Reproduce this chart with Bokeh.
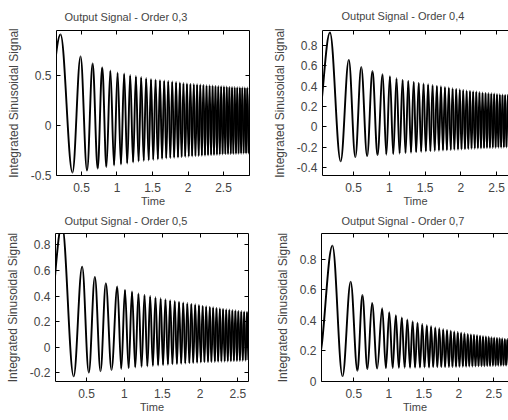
from bokeh.plotting import figure
from bokeh.models import ColumnDataSource, LinearAxis, FixedTicker, Range1d
from bokeh.layouts import column, row
from bokeh.embed import file_html
from bokeh.resources import INLINE

# ---------------- texts ----------------
titles = ["Output Signal - Order 0,3", "Output Signal - Order 0,4",
          "Output Signal - Order 0,5", "Output Signal - Order 0,7"]
x_label = "Time"
y_label = "Integrated Sinusoidal Signal"

x_ticks = [0.5, 1, 1.5, 2, 2.5]
x_tick_labels = ["0.5", "1", "1.5", "2", "2.5"]

y_ticks_03 = [-0.5, 0, 0.5]
y_tick_labels_03 = ["-0.5", "0", "0.5"]
y_ticks_04 = [-0.4, -0.2, 0, 0.2, 0.4, 0.6, 0.8]
y_tick_labels_04 = ["-0.4", "-0.2", "0", "0.2", "0.4", "0.6", "0.8"]
y_ticks_05 = [-0.2, 0, 0.2, 0.4, 0.6, 0.8]
y_tick_labels_05 = ["-0.2", "0", "0.2", "0.4", "0.6", "0.8"]
y_ticks_07 = [0, 0.2, 0.4, 0.6, 0.8]
y_tick_labels_07 = ["0", "0.2", "0.4", "0.6", "0.8"]

# axis limits
x_lim_03 = [0.148, 2.866]
y_lim_03 = [-0.5, 0.95]
x_lim_04 = [0.066, 2.667]
y_lim_04 = [-0.48, 0.95]
x_lim_05 = [0.09, 2.64]
y_lim_05 = [-0.27, 0.89]
x_lim_07 = [0.04, 2.71]
y_lim_07 = [0.0, 0.97]

# ---------------- data: extremum times (alternating max / min) ----------------
t_start = 0.0
t_ext = [0.205, 0.373, 0.487, 0.578, 0.657, 0.728, 0.792, 0.851, 0.907, 0.959,
         1.008, 1.056, 1.101, 1.144, 1.186, 1.227, 1.266, 1.304, 1.341, 1.376,
         1.411, 1.446, 1.479, 1.511, 1.543, 1.575, 1.605, 1.635, 1.665, 1.694,
         1.722, 1.751, 1.778, 1.805, 1.832, 1.859, 1.885, 1.910, 1.936, 1.961,
         1.985, 2.010, 2.034, 2.058, 2.081, 2.105, 2.128, 2.150, 2.173, 2.195,
         2.217, 2.239, 2.261, 2.282, 2.304, 2.325, 2.346, 2.366, 2.387, 2.407,
         2.427, 2.447, 2.467, 2.487, 2.506, 2.526, 2.545, 2.564, 2.583, 2.602,
         2.620, 2.639, 2.657, 2.676, 2.694, 2.712, 2.730, 2.748, 2.765, 2.783,
         2.800, 2.818, 2.835, 2.852, 2.869, 2.886, 2.903]
t_first_04 = [0.17, 0.32, 0.434, 0.525, 0.608, 0.69, 0.765, 0.835]
t_first_05 = [0.175, 0.33, 0.442, 0.53, 0.61, 0.685, 0.755, 0.83]
t_first_07 = [0.196, 0.34, 0.457, 0.553, 0.624, 0.696, 0.762, 0.835]

# ---------------- data: values at the extrema ----------------
start_03 = 0.0
peaks_03 = [0.91, 0.69, 0.62, 0.58, 0.55, 0.53, 0.52, 0.505, 0.495, 0.485,
            0.475, 0.465, 0.46, 0.455, 0.45, 0.445, 0.44, 0.435, 0.43, 0.425,
            0.42, 0.418, 0.415, 0.412, 0.41, 0.407, 0.404, 0.402, 0.40, 0.398,
            0.396, 0.394, 0.392, 0.39, 0.388, 0.386, 0.385, 0.384, 0.383, 0.382,
            0.381, 0.38, 0.379, 0.378]
troughs_03 = [-0.47, -0.45, -0.43, -0.415, -0.40, -0.39, -0.38, -0.37, -0.36, -0.355,
              -0.35, -0.345, -0.34, -0.335, -0.33, -0.327, -0.324, -0.321, -0.318, -0.315,
              -0.312, -0.31, -0.308, -0.306, -0.304, -0.302, -0.30, -0.298, -0.296, -0.294,
              -0.292, -0.29, -0.289, -0.288, -0.287, -0.286, -0.285, -0.284, -0.283, -0.282,
              -0.281, -0.28, -0.279]

start_04 = 0.05
peaks_04 = [0.93, 0.66, 0.59, 0.55, 0.52, 0.50, 0.48, 0.465, 0.455, 0.445,
            0.435, 0.427, 0.42, 0.413, 0.406, 0.40, 0.394, 0.388, 0.382, 0.376,
            0.37, 0.365, 0.36, 0.356, 0.352, 0.348, 0.344, 0.34, 0.337, 0.334,
            0.331, 0.328, 0.325, 0.322, 0.32, 0.318, 0.316, 0.314, 0.312, 0.31,
            0.308, 0.306, 0.304, 0.302]
troughs_04 = [-0.34, -0.30, -0.29, -0.28, -0.275, -0.27, -0.265, -0.26, -0.256, -0.252,
              -0.248, -0.245, -0.242, -0.239, -0.236, -0.234, -0.232, -0.23, -0.228, -0.226,
              -0.224, -0.222, -0.22, -0.218, -0.216, -0.214, -0.213, -0.212, -0.211, -0.21,
              -0.209, -0.208, -0.207, -0.206, -0.205, -0.204, -0.203, -0.202, -0.201, -0.20,
              -0.199, -0.198, -0.197]

start_05 = 0.2
peaks_05 = [0.96, 0.63, 0.55, 0.50, 0.475, 0.45, 0.435, 0.42, 0.41, 0.40,
            0.39, 0.382, 0.375, 0.368, 0.362, 0.356, 0.35, 0.345, 0.34, 0.335,
            0.33, 0.325, 0.32, 0.316, 0.312, 0.308, 0.304, 0.30, 0.297, 0.294,
            0.291, 0.288, 0.285, 0.282, 0.28, 0.278, 0.276, 0.274, 0.272, 0.27,
            0.268, 0.266, 0.264, 0.262]
troughs_05 = [-0.23, -0.20, -0.19, -0.18, -0.172, -0.166, -0.16, -0.156, -0.152, -0.148,
              -0.145, -0.142, -0.139, -0.136, -0.134, -0.132, -0.13, -0.128, -0.126, -0.124,
              -0.122, -0.12, -0.119, -0.118, -0.117, -0.116, -0.115, -0.114, -0.113, -0.112,
              -0.111, -0.11, -0.109, -0.108, -0.107, -0.106, -0.105, -0.104, -0.103, -0.102,
              -0.101, -0.10, -0.099]

start_07 = 0.15
peaks_07 = [0.89, 0.654, 0.567, 0.515, 0.48, 0.455, 0.435, 0.42, 0.407, 0.396,
            0.386, 0.377, 0.369, 0.362, 0.355, 0.349, 0.343, 0.338, 0.333, 0.328,
            0.324, 0.32, 0.316, 0.312, 0.309, 0.306, 0.303, 0.30, 0.297, 0.295,
            0.293, 0.291, 0.289, 0.287, 0.285, 0.283, 0.281, 0.279, 0.277, 0.275,
            0.273, 0.271, 0.27, 0.268]
troughs_07 = [0.035, 0.07, 0.08, 0.085, 0.087, 0.088, 0.089, 0.09, 0.09, 0.091,
              0.091, 0.092, 0.092, 0.093, 0.093, 0.094, 0.094, 0.095, 0.095, 0.096,
              0.096, 0.097, 0.097, 0.098, 0.098, 0.099, 0.099, 0.10, 0.10, 0.101,
              0.101, 0.102, 0.102, 0.103, 0.103, 0.104, 0.104, 0.105, 0.105, 0.106,
              0.106, 0.107, 0.107]

FONT = "Liberation Sans"
K = 0.3642  # bezier handle fraction: half-wave shape between extrema


def series(first, start, peaks, troughs):
    ts = [t_start] + list(first) + t_ext[len(first):]
    ys = [start]
    for k in range(len(t_ext)):
        ys.append(peaks[k // 2] if k % 2 == 0 else troughs[k // 2])
    return ts, ys


def bezier_source(ts, ys):
    x0, x1, y0, y1 = ts[:-1], ts[1:], ys[:-1], ys[1:]
    cx0 = [a + K * (b - a) for a, b in zip(x0, x1)]
    cx1 = [b - K * (b - a) for a, b in zip(x0, x1)]
    return ColumnDataSource(dict(x0=x0, y0=y0, x1=x1, y1=y1,
                                 cx0=cx0, cy0=y0, cx1=cx1, cy1=y1))


def style_axis(ax, ticks, labels=None):
    ax.ticker = FixedTicker(ticks=ticks)
    ax.axis_line_color = "black"
    ax.axis_line_width = 1
    ax.major_tick_line_color = "black"
    ax.major_tick_in = 4
    ax.major_tick_out = 0
    ax.minor_tick_in = 0
    ax.minor_tick_out = 0
    ax.minor_tick_line_color = None
    ax.major_label_text_font = FONT
    if labels is None:  # box side: ticks only
        ax.major_label_overrides = {t: "" for t in ticks}
        ax.major_label_text_font_size = "6px"
        ax.major_label_standoff = 0
    else:
        ax.major_label_overrides = dict(zip(ticks, labels))
        ax.major_label_text_font_size = "12px"


def panel(title, ts, ys, xlim, ylim, yticks, ylabels, width, height,
          bl, br, bt, bb, right_box, title_offset, title_standoff):
    p = figure(width=width, height=height,
               x_range=Range1d(*xlim), y_range=Range1d(*ylim),
               output_backend="svg", toolbar_location=None,
               min_border_left=bl, min_border_right=br,
               min_border_top=bt, min_border_bottom=bb)
    p.outline_line_color = None
    p.grid.visible = False
    p.background_fill_color = "white"
    p.border_fill_color = "white"

    p.bezier(x0="x0", y0="y0", x1="x1", y1="y1", cx0="cx0", cy0="cy0",
             cx1="cx1", cy1="cy1", source=bezier_source(ts, ys),
             line_color="black", line_width=1.9)

    xa = p.xaxis[0]
    style_axis(xa, x_ticks, x_tick_labels)
    xa.major_label_standoff = 7
    xa.axis_label = x_label
    xa.axis_label_text_font = FONT
    xa.axis_label_text_font_size = "11px"
    xa.axis_label_text_font_style = "normal"
    xa.axis_label_standoff = 0

    ya = p.yaxis[0]
    style_axis(ya, yticks, ylabels)
    ya.major_label_standoff = 5
    ya.axis_label = y_label
    ya.axis_label_text_font = FONT
    ya.axis_label_text_font_size = "12px"
    ya.axis_label_text_font_style = "normal"
    ya.axis_label_standoff = 7

    top = LinearAxis()
    style_axis(top, x_ticks)
    p.add_layout(top, "above")
    if right_box:
        rgt = LinearAxis()
        style_axis(rgt, yticks)
        p.add_layout(rgt, "right")

    p.title.text = title
    p.title.text_font = FONT
    p.title.text_font_size = "11px"
    p.title.text_font_style = "normal"
    p.title.align = "left"
    p.title.vertical_align = "top"
    p.title.offset = title_offset
    p.title.standoff = title_standoff
    return p


t03, y03 = series([], start_03, peaks_03, troughs_03)
t04, y04 = series(t_first_04, start_04, peaks_04, troughs_04)
t05, y05 = series(t_first_05, start_05, peaks_05, troughs_05)
t07, y07 = series(t_first_07, start_07, peaks_07, troughs_07)

p1 = panel(titles[0], t03, y03, x_lim_03, y_lim_03, y_ticks_03, y_tick_labels_03,
           264, 209, 56, 15, 28, 34, True, 8, 12)
p2 = panel(titles[1], t04, y04, x_lim_04, y_lim_04, y_ticks_04, y_tick_labels_04,
           244, 209, 58, 0, 30, 34, False, 19, 14)
p3 = panel(titles[2], t05, y05, x_lim_05, y_lim_05, y_ticks_05, y_tick_labels_05,
           264, 211, 55, 16, 24, 39, True, 9, 9)
p4 = panel(titles[3], t07, y07, x_lim_07, y_lim_07, y_ticks_07, y_tick_labels_07,
           244, 211, 57, 0, 24, 39, False, 20, 9)

layout = column(row(p1, p2), row(p3, p4))
open("out.html", "w").write(file_html(layout, INLINE))
